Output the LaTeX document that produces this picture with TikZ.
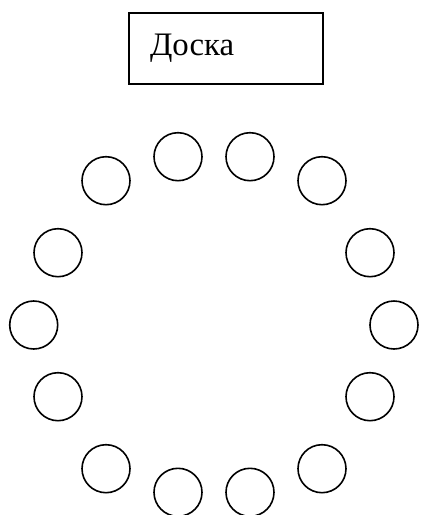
\documentclass[tikz,border=0pt]{standalone}
\usepackage{fontspec}
\setmainfont{Liberation Serif}
\usepackage{tikz}
\usetikzlibrary{positioning}

\begin{document}
\begin{tikzpicture}[x=0.5pt,y=-0.5pt,
		seat/.style={circle,draw,line width=0.8pt,minimum size=24pt,inner sep=0pt},
		board/.style={draw,line width=1pt,minimum width=96.7pt,minimum height=35.6pt,
			text width=76pt,inner xsep=10.35pt,align=left,font=\fontsize{16.4}{20}\selectfont}]
	\useasboundingbox (0,0) rectangle (420,515);
	\node[board] (doska) at (226,48.4) {Доска};
	% top row
	\node[seat] (s1) at (178,156.7) {};
	\node[seat] (s2) at (250,156.7) {};
	\node[seat] (s3) at (106,180.7) {};
	\node[seat] (s4) at (322,180.7) {};
	% sides
	\node[seat] (s5) at (58,252.7) {};
	\node[seat] (s6) at (370,252.7) {};
	\node[seat] (s7) at (33.7,325) {};
	\node[seat] (s8) at (394,325) {};
	\node[seat] (s9) at (58,396.7) {};
	\node[seat] (s10) at (370,396.7) {};
	% bottom row
	\node[seat] (s11) at (106,468.7) {};
	\node[seat] (s12) at (322,468.7) {};
	\node[seat] (s13) at (178,492.3) {};
	\node[seat] (s14) at (250,492.3) {};
\end{tikzpicture}
\end{document}
